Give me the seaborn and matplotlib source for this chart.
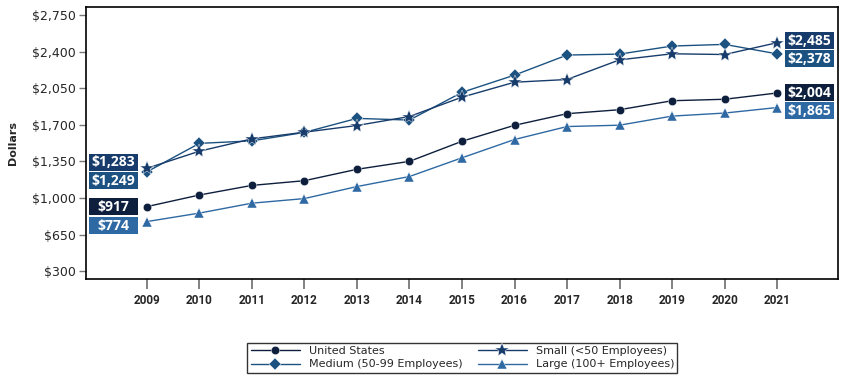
import pandas as pd
import numpy as np
import matplotlib
matplotlib.use("Agg")
import matplotlib.pyplot as plt
from matplotlib.patches import Rectangle
import seaborn as sns

# data
years = list(range(2009, 2022))
us = [917, 1028, 1120, 1165, 1274, 1350, 1542, 1695, 1806, 1844, 1930, 1944, 2004]
small = [1283, 1447, 1565, 1629, 1693, 1779, 1964, 2107, 2133, 2321, 2379, 2372, 2485]
medium = [1249, 1522, 1546, 1627, 1761, 1745, 2010, 2175, 2367, 2376, 2453, 2469, 2378]
large = [774, 855, 950, 994, 1109, 1205, 1384, 1559, 1683, 1696, 1783, 1812, 1865]

names = ["United States", "Medium (50-99 Employees)", "Small (<50 Employees)", "Large (100+ Employees)"]
values = [us, medium, small, large]
colors = ["#0d1f3c", "#1b5281", "#173c6b", "#2e69a3"]
markers = ["o", "D", "*", "^"]
msizes = [6, 6, 10, 7]
y_ticks = [300, 650, 1000, 1350, 1700, 2050, 2400, 2750]

df = pd.DataFrame({
    "year": years * 4,
    "value": sum(values, []),
    "series": [n for n in names for _ in years],
})

sns.set_style("white")
plt.rcParams["font.family"] = ["DejaVu Sans"]

fig = plt.figure(figsize=(8.5, 3.86), dpi=100)
ax = fig.add_axes([0.101, 0.277, 0.885, 0.705])

for name, col, mk, ms in zip(names, colors, markers, msizes):
    sub = df[df["series"] == name]
    sns.lineplot(data=sub, x="year", y="value", ax=ax, color=col, marker=mk,
                 markersize=ms, markeredgewidth=0.3, markeredgecolor="white",
                 linewidth=1.0, label=name)

ax.set_xlim(2007.84, 2022.16)
ax.set_ylim(224, 2827)
ax.set_xticks(years)
ax.set_xticklabels([str(y) for y in years], fontsize=8.5, fontweight="bold",
                   family=["Roboto", "DejaVu Sans"])
ax.set_yticks(y_ticks)
ax.set_yticklabels([f"${v:,}" for v in y_ticks], fontsize=9)
ax.tick_params(axis="x", bottom=True, direction="out", length=7, width=1.3,
               color="#777777", pad=4)
ax.tick_params(axis="y", left=True, direction="out", length=5, width=1,
               color="#777777", pad=2)
ax.set_xlabel("")
ax.set_ylabel("Dollars", fontsize=8, fontweight="bold")
ax.yaxis.set_label_coords(-0.09, 0.5)
for s in ax.spines.values():
    s.set_color("black")
    s.set_linewidth(1.2)

# value boxes at first and last year (box size ~50 x 17 px)
px_x = 1 / 52.5      # years per pixel
px_y = 9.57          # dollars per pixel
box_w = 49 * px_x
box_h = 17 * px_y
left_off = {"United States": 0, "Medium (50-99 Employees)": -9,
            "Small (<50 Employees)": 6, "Large (100+ Employees)": -4}
right_off = {"United States": 0, "Medium (50-99 Employees)": -5,
             "Small (<50 Employees)": 2, "Large (100+ Employees)": -3}
for name, vals, col in zip(names, values, colors):
    for x0, v, off in [(years[0] - 9 * px_x - box_w, vals[0], left_off[name]),
                       (years[-1] + 8 * px_x, vals[-1], right_off[name])]:
        yc = v + off * px_y
        ax.add_patch(Rectangle((x0, yc - box_h / 2), box_w, box_h, facecolor=col,
                               edgecolor="none", clip_on=False, zorder=5))
        ax.text(x0 + box_w / 2, yc, f"${v:,}", ha="center", va="center", color="white",
                fontsize=10, fontweight="bold", zorder=6,
                family=["Open Sans", "DejaVu Sans"])

handles, labels = ax.get_legend_handles_labels()
ax.get_legend().remove()
leg = fig.legend(handles, labels, loc="lower center", bbox_to_anchor=(0.544, 0.02),
                 ncol=2, fontsize=8, frameon=True, fancybox=False, edgecolor="black",
                 handlelength=4.4, columnspacing=1.4, borderpad=0.3, labelspacing=0.3,
                 handletextpad=0.8)
leg.get_frame().set_linewidth(1)

fig.savefig("out.png", dpi=100)
